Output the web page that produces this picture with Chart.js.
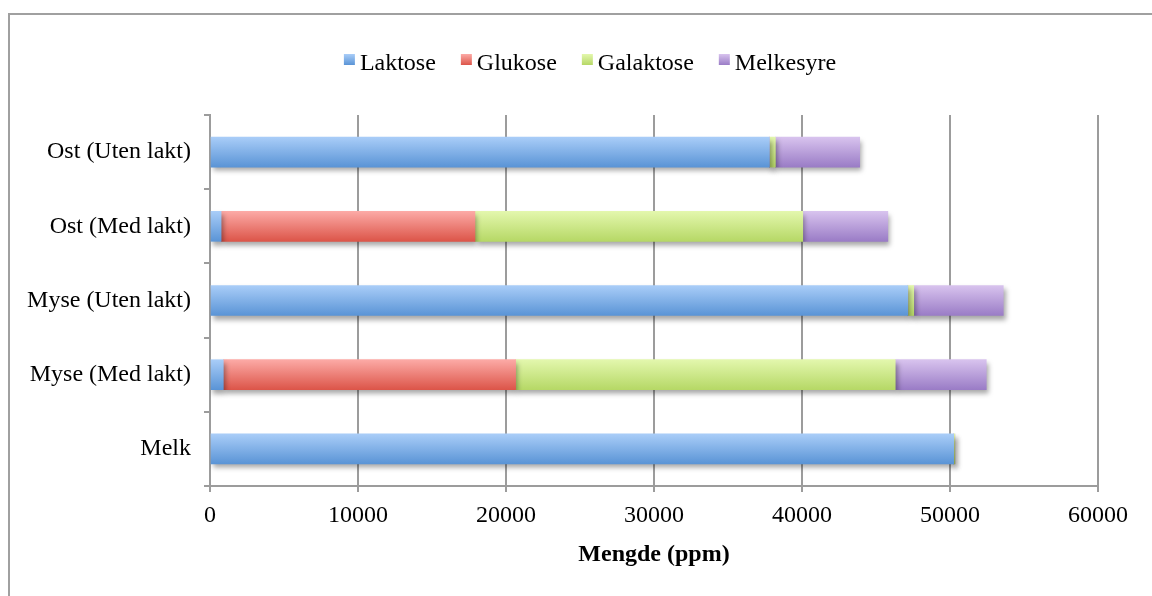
<!DOCTYPE html>
<html>
<head>
<meta charset="utf-8">
<script src="https://cdn.jsdelivr.net/npm/chart.js@4.4.1/dist/chart.umd.min.js"></script>
<style>
  html, body { margin: 0; padding: 0; background: #fff; }
  #wrap { position: relative; width: 1152px; height: 596px; }
</style>
</head>
<body>
<div id="wrap"><canvas id="c"></canvas></div>
<script>
const categories = ['Ost (Uten lakt)', 'Ost (Med lakt)', 'Myse (Uten lakt)', 'Myse (Med lakt)', 'Melk'];
const laktose   = [37800,   750, 47150,   900, 50250];
const glukose   = [    0, 17150,     0, 19750,     0];
const galaktose = [  400, 22150,   400, 25650,    80];
const melkesyre = [ 5700,  5750,  6050,  6150,     0];
const xTicks = [0, 10000, 20000, 30000, 40000, 50000, 60000];
const seriesNames = ['Laktose', 'Glukose', 'Galaktose', 'Melkesyre'];

const palette = [
  ['#a9cdf8', '#5a94d6'],
  ['#fcaaa6', '#dc5549'],
  ['#e3f7ad', '#b6d866'],
  ['#d8c3ee', '#9a7cc6']
];
const BAR_T = 30;
const FS = 24;

function grad(top, bottom) {
  return (ctx) => {
    const chart = ctx.chart;
    const ys = chart.scales && chart.scales.y;
    if (!ys || ctx.type !== 'data') return bottom;
    const c = ys.getPixelForValue(ctx.dataIndex);
    if (!isFinite(c)) return bottom;
    const g = chart.ctx.createLinearGradient(0, c - BAR_T / 2, 0, c + BAR_T / 2);
    g.addColorStop(0, top);
    g.addColorStop(1, bottom);
    return g;
  };
}

Chart.defaults.font.family = "'Liberation Serif', 'Times New Roman', serif";
Chart.defaults.font.size = FS;
Chart.defaults.color = '#000';

const frame = {
  id: 'frame',
  beforeDraw(chart) {
    const ctx = chart.ctx;
    ctx.save();
    ctx.strokeStyle = '#a0a0a0';
    ctx.lineWidth = 2;
    ctx.strokeRect(9, 14, 1300, 800);
    ctx.restore();
  }
};

const legendFix = {
  id: 'legendFix',
  beforeLayout(chart) {
    const lg = chart.legend;
    if (lg && !lg._patched) {
      const orig = lg.fit;
      lg.fit = function () { orig.call(this); this.height = 92; };
      lg._patched = true;
    }
  },
  afterLayout(chart) {
    const lg = chart.legend;
    if (lg) {
      lg.left = 86;
      lg.right = chart.chartArea.right;
      lg.width = lg.right - lg.left;
    }
  },
  afterDraw(chart) {
    const lg = chart.legend;
    if (!lg || !lg.legendHitBoxes) return;
    const ctx = chart.ctx;
    lg.legendHitBoxes.forEach((hb, i) => {
      if (i >= palette.length) return;
      const cy = hb.top + hb.height / 2;
      const x = hb.left + FS / 2 - 16;
      const y = cy - 10;
      if (!isFinite(x) || !isFinite(y)) return;
      const g = ctx.createLinearGradient(0, y, 0, y + 11);
      g.addColorStop(0, palette[i][0]);
      g.addColorStop(1, palette[i][1]);
      ctx.save();
      ctx.fillStyle = g;
      ctx.fillRect(x, y, 11, 11);
      ctx.restore();
    });
  }
};

const shadow = {
  id: 'shadow',
  beforeDatasetsDraw(chart) {
    const ctx = chart.ctx;
    ctx.save();
    ctx.shadowColor = 'rgba(0,0,0,0.35)';
    ctx.shadowBlur = 5;
    ctx.shadowOffsetX = 2;
    ctx.shadowOffsetY = 4;
  },
  afterDatasetsDraw(chart) {
    chart.ctx.restore();
  }
};

const seriesData = [laktose, glukose, galaktose, melkesyre];

new Chart(document.getElementById('c'), {
  type: 'bar',
  data: {
    labels: categories,
    datasets: seriesNames.map((n, i) => ({
      label: n,
      data: seriesData[i],
      backgroundColor: grad(palette[i][0], palette[i][1]),
      borderWidth: 0,
      barThickness: BAR_T
    }))
  },
  options: {
    indexAxis: 'y',
    responsive: true,
    maintainAspectRatio: false,
    animation: false,
    events: [],
    layout: { padding: { top: 23, left: 0, right: 54, bottom: 0 } },
    plugins: {
      legend: {
        position: 'top',
        labels: {
          boxWidth: 0,
          boxHeight: 0,
          padding: 29,
          font: { size: FS },
          color: '#000'
        }
      },
      tooltip: { enabled: false }
    },
    scales: {
      x: {
        stacked: true,
        min: 0,
        max: 60000,
        afterBuildTicks(s) { s.ticks = xTicks.map(v => ({ value: v })); },
        afterFit(s) { s.height = 110; },
        grid: {
          color: '#9c9c9c',
          lineWidth: 2,
          drawTicks: true,
          tickLength: 6,
          tickColor: '#9c9c9c'
        },
        border: { color: '#9c9c9c', width: 2 },
        ticks: {
          padding: 9,
          color: '#000',
          font: { size: FS },
          maxRotation: 0,
          callback: (v) => String(v)
        },
        title: {
          display: true,
          text: 'Mengde (ppm)',
          color: '#000',
          font: { size: FS, weight: 'bold' },
          padding: { top: 4, bottom: 27 }
        }
      },
      y: {
        stacked: true,
        afterFit(s) { s.width = 210; },
        grid: {
          offset: true,
          drawOnChartArea: false,
          drawTicks: true,
          tickLength: 6,
          color: '#9c9c9c',
          lineWidth: 2
        },
        border: { color: '#9c9c9c', width: 2 },
        ticks: { padding: 13, color: '#000', font: { size: FS } }
      }
    }
  },
  plugins: [frame, legendFix, shadow]
});
</script>
</body>
</html>
